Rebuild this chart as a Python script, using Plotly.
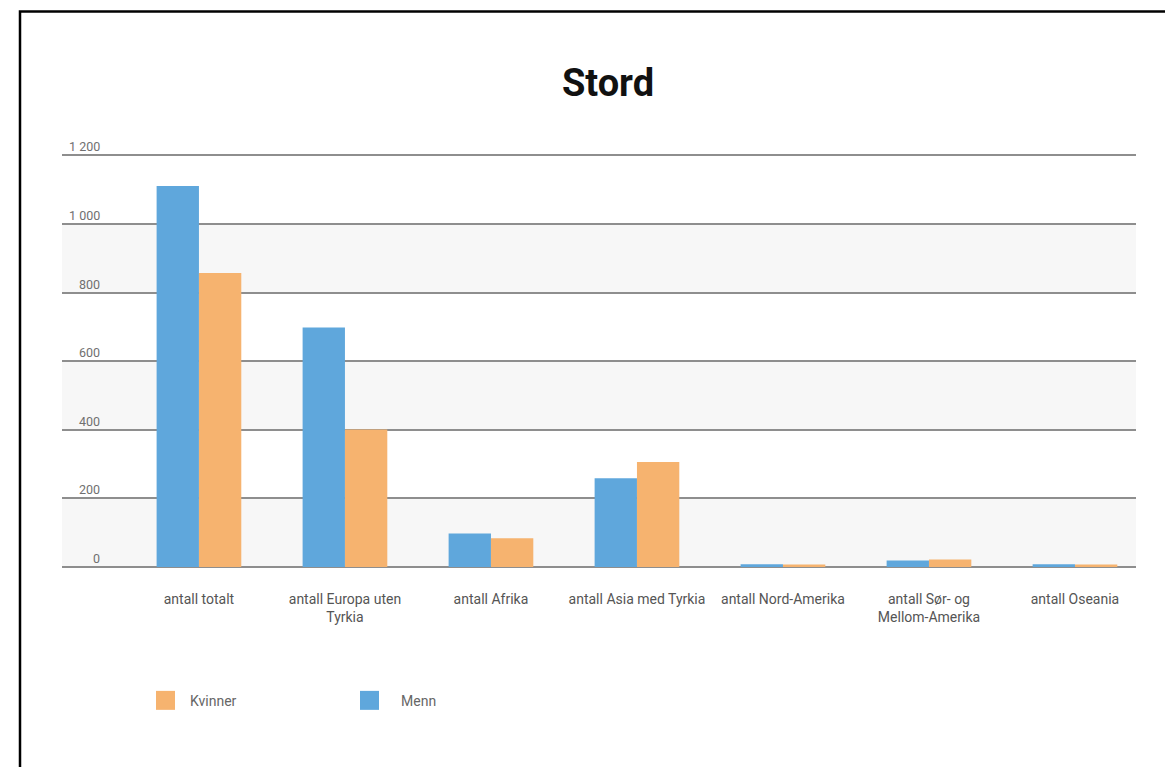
import plotly.graph_objects as go

categories = ["antall totalt", "antall Europa uten<br>Tyrkia", "antall Afrika",
              "antall Asia med Tyrkia", "antall Nord-Amerika",
              "antall Sør- og<br>Mellom-Amerika", "antall Oseania"]
menn = [1111, 698, 98, 259, 8, 19, 8]
kvinner = [857, 401, 84, 306, 7, 22, 7]
y_ticks = [0, 200, 400, 600, 800, 1000, 1200]
y_tick_labels = ["0", "200", "400", "600", "800", "1 000", "1 200"]

W, H = 1165, 767
Y_MAX = 1210
L, R, B = 62, 1136, 567
T = 155 - (Y_MAX - 1200) * (B - 155) / 1200
BLUE = "#5fa7dc"
ORANGE = "#f6b36f"
GRID = "#8e8e8e"
FONT = "Roboto"


def px(x):
    return (x - L) / (R - L)


def py(y):
    return (B - y) / (B - T)


fig = go.Figure()
fig.add_trace(go.Bar(x=list(range(len(categories))), y=menn, name="Menn",
                     marker=dict(color=BLUE, line=dict(width=0)), showlegend=False))
fig.add_trace(go.Bar(x=list(range(len(categories))), y=kvinner, name="Kvinner",
                     marker=dict(color=ORANGE, line=dict(width=0)), showlegend=False))

shapes = []
# alternating bands
for i in range(0, len(y_ticks) - 1, 2):
    shapes.append(dict(type="rect", xref="paper", yref="y", x0=0, x1=1,
                       y0=y_ticks[i], y1=y_ticks[i + 1], fillcolor="#f7f7f7",
                       line=dict(width=0), layer="below"))
# border
shapes.append(dict(type="rect", xref="paper", yref="paper", x0=px(20), x1=px(1250),
                   y0=py(11), y1=py(850), line=dict(color="black", width=2.5),
                   fillcolor="rgba(0,0,0,0)"))
# manual legend
legend_items = [("Kvinner", ORANGE, 156, 189), ("Menn", BLUE, 360, 400)]
annotations = []
for name, col, x0, tx in legend_items:
    shapes.append(dict(type="rect", xref="paper", yref="paper", x0=px(x0), x1=px(x0 + 19),
                       y0=py(710), y1=py(691), fillcolor=col, line=dict(width=0)))
    annotations.append(dict(xref="paper", yref="paper", x=px(tx - 1), y=py(701),
                            text=name, showarrow=False, xanchor="left", yanchor="middle",
                            font=dict(family=FONT, size=14, color="#666666")))

for v, lab in zip(y_ticks, y_tick_labels):
    annotations.append(dict(xref="paper", yref="y", x=px(102), y=v, text=lab,
                            showarrow=False, xanchor="right", yanchor="bottom",
                            yshift=-1, font=dict(family=FONT, size=12.5, color="#707070")))

fig.update_layout(
    width=W, height=H,
    margin=dict(l=L, r=W - R, t=T, b=H - B, pad=0),
    paper_bgcolor="white", plot_bgcolor="white",
    barmode="group", bargap=0.42, bargroupgap=0,
    title=dict(text="<b>Stord</b>", x=608 / W, xref="container", xanchor="center",
               y=1 - 83 / H, yref="container", yanchor="middle",
               font=dict(family=FONT, size=38, color="#111111")),
    xaxis=dict(range=[-0.938, 6.418], tickmode="array",
               tickvals=list(range(len(categories))), ticktext=categories,
               showgrid=False, zeroline=False, showline=False, ticks="",
               ticklabelstandoff=22,
               tickfont=dict(family=FONT, size=14, color="#555555")),
    yaxis=dict(range=[0, Y_MAX], tickmode="array", tickvals=y_ticks,
               showticklabels=False, showgrid=True, gridcolor=GRID, gridwidth=2,
               zeroline=True, zerolinecolor=GRID, zerolinewidth=2, showline=False,
               ticks=""),
    shapes=shapes, annotations=annotations,
)

fig.write_html("out.html")
